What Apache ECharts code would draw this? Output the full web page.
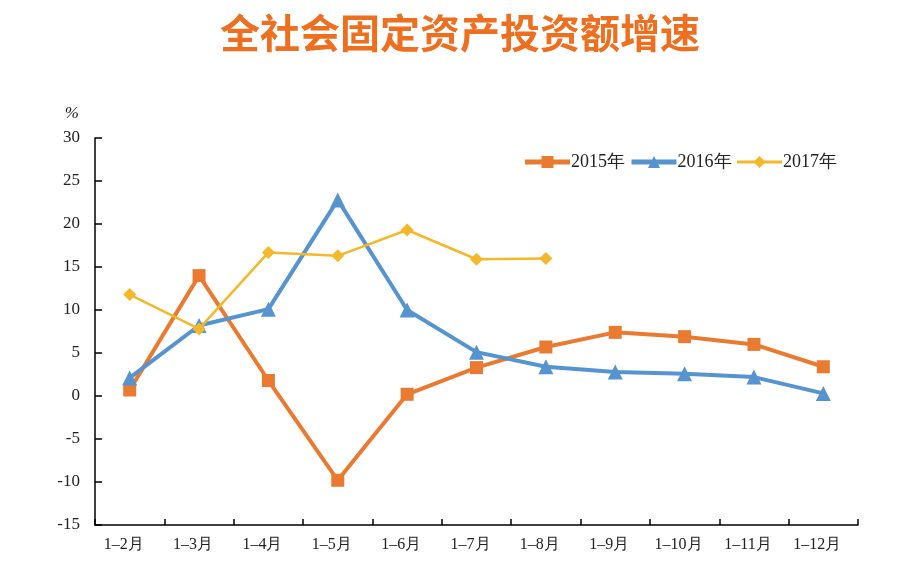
<!DOCTYPE html>
<html>
<head>
<meta charset="utf-8">
<script src="https://cdn.jsdelivr.net/npm/echarts@6/dist/echarts.min.js"></script>
<style>html,body{margin:0;padding:0;background:#fff}#c{width:920px;height:588px}</style>
</head>
<body>
<div id="c"></div>
<script>
const categories = ['1–2月','1–3月','1–4月','1–5月','1–6月','1–7月','1–8月','1–9月','1–10月','1–11月','1–12月'];
const s2015 = [0.7, 14.0, 1.8, -9.8, 0.2, 3.3, 5.7, 7.4, 6.9, 6.0, 3.4];
const s2016 = [2.1, 8.2, 10.1, 22.8, 10.0, 5.1, 3.4, 2.8, 2.6, 2.2, 0.3];
const s2017 = [11.8, 7.8, 16.7, 16.3, 19.3, 15.9, 16.0];
const seriesNames = ['2015年','2016年','2017年'];
const yTicks = {min:-15, max:30, interval:5};

const chart = echarts.init(document.getElementById('c'));
const serif = '"Liberation Serif","DejaVu Serif",serif';
const colors = ['#EA7A30','#5594CF','#F5B82A'];
chart.setOption({
  backgroundColor:'#fff',
  title:{
    text:'全社会固定资产投资额增速',
    left:'center', top:8,
    textStyle:{fontFamily:'"Noto Sans CJK SC",sans-serif', fontSize:40, fontWeight:'bold', color:'#EE6F1F'}
  },
  legend:{
    data:[
      {name:seriesNames[0], lineStyle:{width:5}},
      {name:seriesNames[1], lineStyle:{width:5}},
      {name:seriesNames[2], lineStyle:{width:3}}
    ],
    right:78, top:148,
    itemWidth:45, itemHeight:15, itemGap:4,
    textStyle:{fontFamily:serif, fontSize:18, color:'#222', padding:[0,0,0,-4]}
  },
  grid:{left:95, right:62, top:138, bottom:63},
  xAxis:{
    type:'category', data:categories, boundaryGap:true,
    axisLine:{show:true, onZero:false, lineStyle:{color:'#000', width:1.5}},
    axisTick:{show:true, inside:true, length:6, interval:0, lineStyle:{color:'#000', width:1.5}},
    axisLabel:{fontFamily:serif, fontSize:16, color:'#222', margin:12, padding:[0,12,0,0], interval:0},
    splitLine:{show:false}
  },
  yAxis:{
    type:'value', min:yTicks.min, max:yTicks.max, interval:yTicks.interval,
    name:'%', nameLocation:'end', nameGap:16,
    nameTextStyle:{fontFamily:serif, fontSize:17, fontStyle:'italic', color:'#222', align:'right', padding:[0,16,0,0]},
    axisLine:{show:true, lineStyle:{color:'#000', width:1.5}},
    axisTick:{show:true, inside:true, length:7, lineStyle:{color:'#000', width:1.5}},
    axisLabel:{fontFamily:serif, fontSize:17, color:'#222', margin:15},
    splitLine:{show:false}
  },
  series:[
    {name:seriesNames[0], type:'line', data:s2015, symbol:'rect', symbolSize:13,
     lineStyle:{color:colors[0], width:4}, itemStyle:{color:colors[0]}, z:3},
    {name:seriesNames[1], type:'line', data:s2016, symbol:'triangle', symbolSize:15,
     lineStyle:{color:colors[1], width:4}, itemStyle:{color:colors[1]}, z:4},
    {name:seriesNames[2], type:'line', data:s2017, symbol:'diamond', symbolSize:13,
     lineStyle:{color:colors[2], width:2.5}, itemStyle:{color:colors[2]}, z:5}
  ],
  animation:false
});
</script>
</body>
</html>
